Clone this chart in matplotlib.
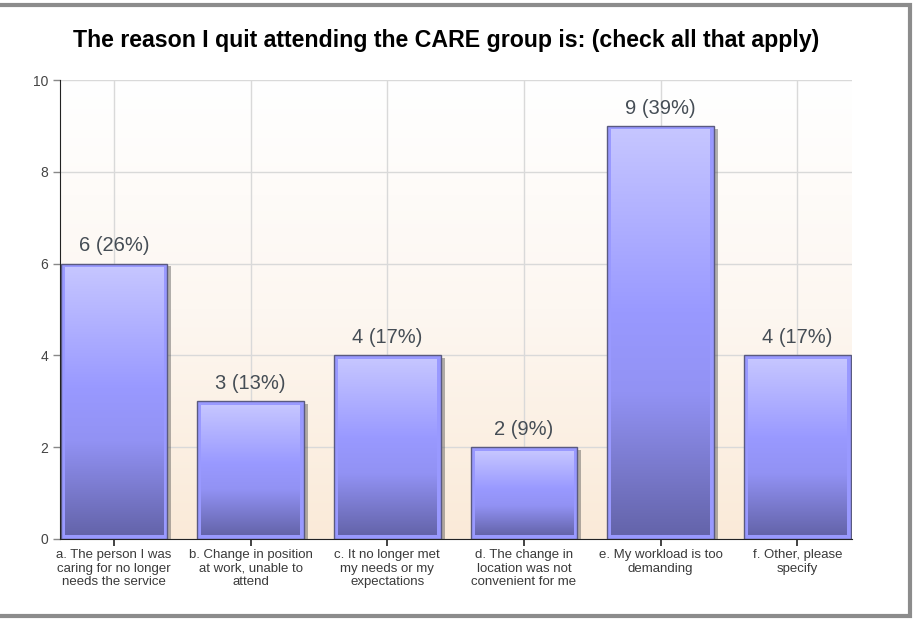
import numpy as np
import matplotlib.pyplot as plt
from matplotlib.colors import LinearSegmentedColormap
from matplotlib.patches import Rectangle
import matplotlib.patheffects as pe

plt.rcParams['font.family'] = ['Liberation Sans', 'DejaVu Sans']

# --- Data ---
categories = [
    "a. The person I was\ncaring for no longer\nneeds the service",
    "b. Change in position\nat work, unable to\nattend",
    "c. It no longer met\nmy needs or my\nexpectations",
    "d. The change in\nlocation was not\nconvenient for me",
    "e. My workload is too\ndemanding",
    "f. Other, please\nspecify",
]
counts = [6, 3, 4, 2, 9, 4]
percents = [26, 13, 17, 9, 39, 17]
title = "The reason I quit attending the CARE group is: (check all that apply)"

W, H = 914, 620
fig = plt.figure(figsize=(W / 100, H / 100), dpi=100)
fig.patch.set_facecolor('white')

# outer grey frame
fig.patches.append(Rectangle((-0.02, 4 / H), 910 / W + 0.02, 611 / H, transform=fig.transFigure,
                             fill=False, edgecolor='#8c8c8c', linewidth=3))

ax = fig.add_axes([60 / W, 1 - 539 / H, 792 / W, 459 / H])
x = np.arange(len(counts))
xlim = (-0.395, len(counts) - 0.6)
ax.set_xlim(*xlim)
ax.set_ylim(0, 10)

# background gradient: white at top -> peach at bottom
bg_cmap = LinearSegmentedColormap.from_list('bg', ['#faead8', '#fdf7f1', '#ffffff'])
grad = np.linspace(0, 1, 256).reshape(-1, 1)
ax.imshow(grad, cmap=bg_cmap, aspect='auto', origin='lower',
          extent=(xlim[0], xlim[1], 0, 10), zorder=0)

# grid
for yv in range(0, 11, 2):
    ax.axhline(yv, color='#d9d9d9', lw=1, zorder=1)
for xv in x:
    ax.axvline(xv, color='#d9d9d9', lw=1, zorder=1)

bar_cmap = LinearSegmentedColormap.from_list(
    'bar', [(0, '#6464aa'), (0.35, '#9292f4'), (0.55, '#9999ff'), (1, '#c6c6ff')])

width = 0.78
# pixel -> data unit conversions for the inner frame of each bar
px_x = (xlim[1] - xlim[0]) / 792
px_y = 10 / 459
inset = 4
bars = ax.bar(x, counts, width=width, color='#9999ff', edgecolor='#5a5a80', linewidth=1, zorder=3)
for b in bars:
    b.set_path_effects([pe.SimplePatchShadow(offset=(3, -2), shadow_rgbFace='#555555', alpha=0.45),
                        pe.Normal()])
    x0, y0 = b.get_x(), b.get_y()
    bw, bh = b.get_width(), b.get_height()
    ax.imshow(grad, cmap=bar_cmap, aspect='auto', origin='lower',
              extent=(x0 + inset * px_x, x0 + bw - inset * px_x, y0 + inset * px_y, bh - inset * px_y),
              zorder=4)

for xi, c, p in zip(x, counts, percents):
    ax.annotate(f"{c} ({p}%)", (xi, c), xytext=(0, 6), textcoords='offset points',
                ha='center', va='bottom', fontsize=14.5, color='#454d55', zorder=5)

ax.set_xlim(*xlim)
ax.set_ylim(0, 10)
ax.set_yticks(range(0, 11, 2))
ax.set_xticks(x)
ax.set_xticklabels(categories, fontsize=9.5, color='#3a3a3a', linespacing=1.2)
ax.tick_params(axis='y', labelsize=10, labelcolor='#444444', color='#888888', length=5, width=1)
ax.tick_params(axis='x', color='#222222', length=5, width=1.2, pad=2)
for side in ['top', 'right']:
    ax.spines[side].set_visible(False)
ax.spines['left'].set_color('#222222')
ax.spines['bottom'].set_color('#222222')
ax.spines['left'].set_zorder(6)
ax.spines['bottom'].set_zorder(6)

fig.text(446 / W, 1 - 40 / H, title, ha='center', va='center', fontsize=16.7, fontweight='bold', color='black')

fig.savefig('out.png', dpi=100)
